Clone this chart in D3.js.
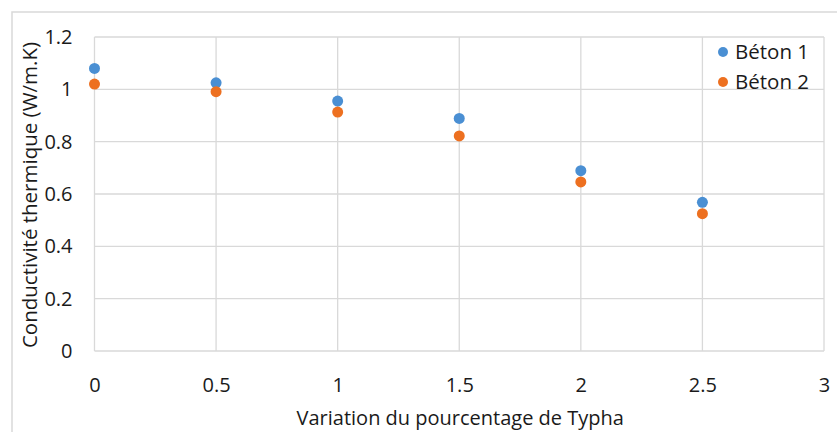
<!DOCTYPE html>
<html><head><meta charset="utf-8">
<script src="https://cdn.jsdelivr.net/npm/d3@7"></script>
<style>body{margin:0;background:#fff}svg{display:block}</style>
</head><body>
<svg id="c" width="837" height="432"></svg>
<script>
const xValues = [0, 0.5, 1, 1.5, 2, 2.5];
const beton1 = [1.08, 1.025, 0.955, 0.889, 0.689, 0.568];
const beton2 = [1.02, 0.991, 0.913, 0.822, 0.646, 0.525];
const seriesNames = ["Béton 1", "Béton 2"];
const colors = ["#4A8FD3", "#ED7020"];
const xTicks = [0, 0.5, 1, 1.5, 2, 2.5, 3];
const yTicks = [0, 0.2, 0.4, 0.6, 0.8, 1, 1.2];
const xTitle = "Variation du pourcentage de Typha";
const yTitle = "Conductivité thermique (W/m.K)";

const svg = d3.select("#c");
const font = "Open Sans, Noto Sans, sans-serif";
const ink = "#1a1a1a";
const L = 94.5, R = 824, T = 37, B = 351;
const x = d3.scaleLinear().domain([0, 3]).range([L, R]);
const y = d3.scaleLinear().domain([0, 1.2]).range([B, T]);

svg.append("rect").attr("x", 12).attr("y", 12).attr("width", 830).attr("height", 430)
  .attr("fill", "#fff").attr("stroke", "#d9d9d9").attr("stroke-width", 1.5);

// gridlines
svg.append("g").selectAll("line").data(yTicks).join("line")
  .attr("x1", L).attr("x2", R).attr("y1", d => y(d)).attr("y2", d => y(d))
  .attr("stroke", "#d9d9d9").attr("stroke-width", 1.3);
svg.append("g").selectAll("line").data(xTicks).join("line")
  .attr("y1", T).attr("y2", B).attr("x1", d => x(d)).attr("x2", d => x(d))
  .attr("stroke", "#d9d9d9").attr("stroke-width", 1.3);

// axes labels via d3 axes
const yAxis = svg.append("g").attr("transform", `translate(${L},0)`)
  .call(d3.axisLeft(y).tickValues(yTicks).tickFormat(d => String(+d.toFixed(1))).tickSize(0).tickPadding(22));
yAxis.select(".domain").remove();
yAxis.selectAll("text").attr("font-family", font).attr("font-size", 20).attr("fill", ink);

const xAxis = svg.append("g").attr("transform", `translate(0,${B})`)
  .call(d3.axisBottom(x).tickValues(xTicks).tickFormat(d => String(d)).tickSize(0).tickPadding(27));
xAxis.select(".domain").remove();
xAxis.selectAll("text").attr("font-family", font).attr("font-size", 20).attr("fill", ink);

// titles
svg.append("text").attr("x", (L + R) / 2 + 1).attr("y", 425)
  .attr("text-anchor", "middle").attr("font-family", font).attr("font-size", 20).attr("fill", ink)
  .text(xTitle);
svg.append("text").attr("transform", `translate(37,${(T + B) / 2 + 1}) rotate(-90)`)
  .attr("text-anchor", "middle").attr("font-family", font).attr("font-size", 20.5).attr("fill", ink)
  .text(yTitle);

// points
[beton1, beton2].forEach((vals, i) => {
  svg.append("g").selectAll("circle").data(vals).join("circle")
    .attr("cx", (d, j) => x(xValues[j])).attr("cy", d => y(d)).attr("r", 5.5)
    .attr("fill", colors[i]);
});

// legend
seriesNames.forEach((n, i) => {
  const ly = 52 + i * 30;
  svg.append("circle").attr("cx", 723).attr("cy", ly).attr("r", 5).attr("fill", colors[i]);
  svg.append("text").attr("x", 735).attr("y", ly).attr("dy", "0.35em")
    .attr("font-family", font).attr("font-size", 20.5).attr("fill", ink).text(n);
});
</script>
</body></html>
